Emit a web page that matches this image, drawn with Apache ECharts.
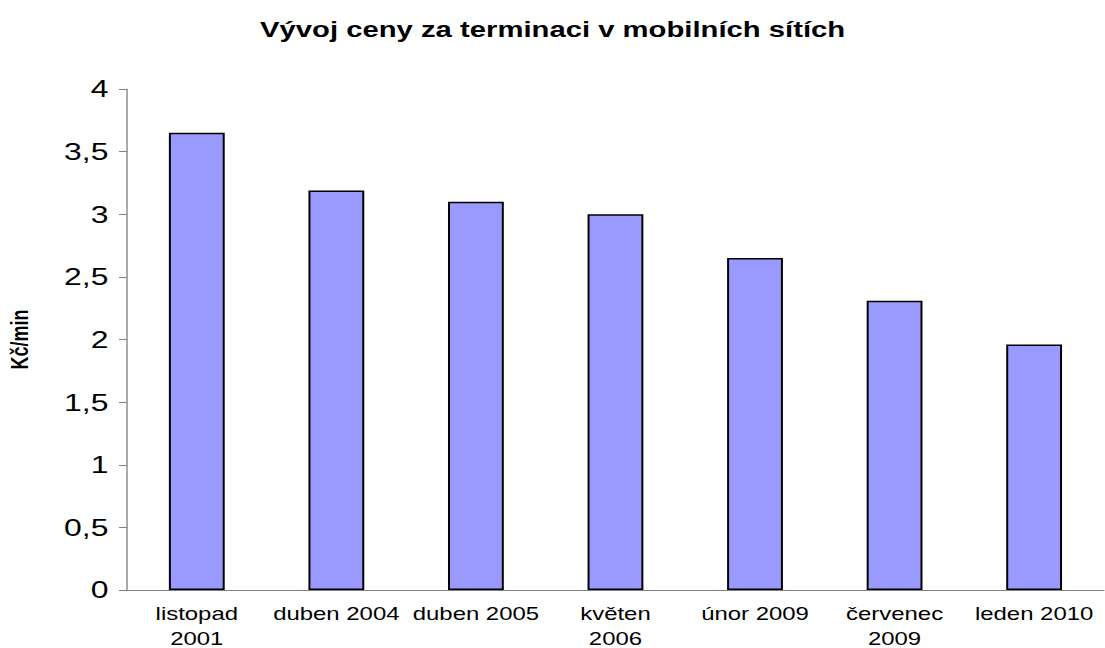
<!DOCTYPE html>
<html>
<head>
<meta charset="utf-8">
<script src="https://cdn.jsdelivr.net/npm/echarts@6/dist/echarts.min.js"></script>
<style>
  html, body { margin: 0; padding: 0; background: #fff; overflow: hidden; }
  /* the original picture is stretched sideways, so the chart is drawn narrower and scaled */
  #chart { width: 831px; height: 648px; transform: scaleX(1.33); transform-origin: 0 0; }
</style>
</head>
<body>
<div id="chart"></div>
<script>
const categories = ['listopad\n2001', 'duben 2004', 'duben 2005', 'květen\n2006', 'únor 2009', 'červenec\n2009', 'leden 2010'];
const prices = [3.65, 3.19, 3.1, 3.0, 2.65, 2.31, 1.96];
const yTicks = { min: 0, max: 4, interval: 0.5 };

const font = 'Liberation Sans, Arial, sans-serif';
const chart = echarts.init(document.getElementById('chart'), null, { renderer: 'svg' });

chart.setOption({
  animation: false,
  title: {
    text: 'Vývoj ceny za terminaci v mobilních sítích',
    left: 'center',
    top: 13,
    textStyle: { fontFamily: font, fontSize: 22, fontWeight: 'bold', color: '#000' }
  },
  grid: { left: 95.5, right: 1, top: 89, bottom: 58, outerBoundsMode: 'none' },
  xAxis: {
    type: 'category',
    data: categories,
    axisLine: { lineStyle: { color: '#808080', width: 1 } },
    axisTick: { length: 6, lineStyle: { color: '#808080' } },
    axisLabel: {
      interval: 0,
      margin: 11,
      color: '#000',
      fontFamily: font,
      fontSize: 18,
      lineHeight: 25
    }
  },
  yAxis: {
    type: 'value',
    min: yTicks.min,
    max: yTicks.max,
    interval: yTicks.interval,
    name: 'Kč/min',
    nameLocation: 'middle',
    nameRotate: 90,
    nameGap: 72,
    nameTextStyle: { fontFamily: font, fontSize: 18, fontWeight: 'bold', color: '#000' },
    axisLine: { show: true, lineStyle: { color: '#808080', width: 1 } },
    axisTick: { show: true, length: 6, lineStyle: { color: '#808080' } },
    splitLine: { show: false },
    axisLabel: {
      margin: 14,
      color: '#000',
      fontFamily: font,
      fontSize: 24,
      formatter: v => String(v).replace('.', ',')
    }
  },
  series: [{
    type: 'bar',
    data: prices,
    barWidth: '40%',
    itemStyle: { color: '#9999FF', borderColor: '#000', borderWidth: 1.5 }
  }]
});
</script>
</body>
</html>
